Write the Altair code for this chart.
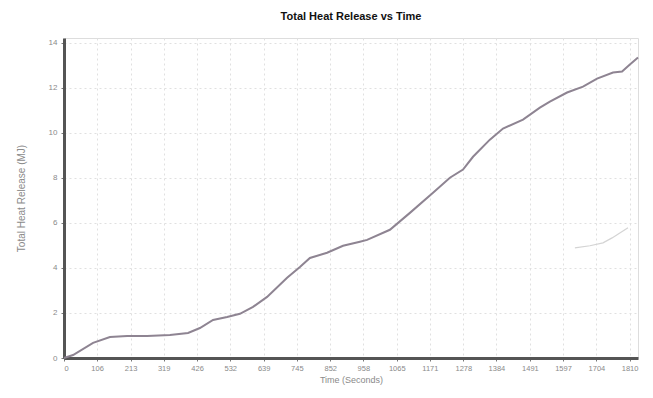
import altair as alt
import pandas as pd

# Cumulative heat release curve (time in s, energy in MJ)
time_s = [0, 29, 93, 147, 202, 266, 339, 397, 435, 477, 522, 563, 605, 650,
          714, 755, 787, 842, 893, 947, 970, 1043, 1107, 1181, 1235, 1277,
          1309, 1363, 1405, 1469, 1523, 1555, 1610, 1661, 1706, 1757, 1786,
          1811, 1837]
heat_mj = [0.0, 0.13, 0.67, 0.93, 0.98, 0.98, 1.02, 1.11, 1.33, 1.69, 1.82,
           1.96, 2.27, 2.71, 3.56, 4.04, 4.44, 4.67, 4.98, 5.16, 5.24, 5.69,
           6.44, 7.33, 8.0, 8.36, 8.93, 9.69, 10.18, 10.58, 11.11, 11.38,
           11.78, 12.04, 12.4, 12.67, 12.71, 13.02, 13.33]

# Faint secondary trace near the end of the test
trace_time = [1635, 1683, 1725, 1754, 1805]
trace_heat = [4.89, 4.98, 5.11, 5.33, 5.78]

x_ticks = [0, 106, 213, 319, 426, 532, 639, 745, 852, 958, 1065, 1171,
           1278, 1384, 1491, 1597, 1704, 1810]
y_ticks = [0, 2, 4, 6, 8, 10, 12, 14]

main = pd.DataFrame({"t": time_s, "q": heat_mj})
trace = pd.DataFrame({"t": trace_time, "q": trace_heat})

x_enc = alt.X(
    "t:Q",
    title="Time (Seconds)",
    scale=alt.Scale(domain=[0, 1837], nice=False, zero=False),
    axis=alt.Axis(values=x_ticks, format="d", labelFontSize=7.5,
                  labelOverlap=False, labelColor="#8a8a8a",
                  titleFontSize=9, titleColor="#8a8a8a",
                  titleFontWeight="normal", domainColor="#555555",
                  domainWidth=3, tickSize=3, tickColor="#777777",
                  gridColor="#e0e0e0", gridDash=[2, 3], labelPadding=3,
                  titlePadding=4),
)
y_enc = alt.Y(
    "q:Q",
    title="Total Heat Release (MJ)",
    scale=alt.Scale(domain=[0, 14.2], nice=False),
    axis=alt.Axis(values=y_ticks, format="d", labelFontSize=8,
                  labelOverlap=False, labelColor="#8a8a8a",
                  titleFontSize=10, titleColor="#8a8a8a",
                  titleFontWeight="normal", domainColor="#555555",
                  domainWidth=3, tickSize=3, tickColor="#777777",
                  gridColor="#e0e0e0", gridDash=[2, 3], labelPadding=4,
                  titlePadding=22),
)

curve = alt.Chart(main).mark_line(color="#8e8492", strokeWidth=2).encode(
    x=x_enc, y=y_enc
)
faint = alt.Chart(trace).mark_line(color="#d4d4d4", strokeWidth=1.2).encode(
    x=x_enc, y=y_enc
)

chart = (
    alt.layer(curve, faint)
    .properties(
        width=574,
        height=320,
        padding={"left": 64, "top": 38, "right": 15, "bottom": 40},
        autosize=alt.AutoSizeParams(type="none"),
        title=alt.TitleParams("Total Heat Release vs Time", fontSize=11,
                              fontWeight="bold", font="Liberation Sans",
                              color="#111111", offset=16),
    )
    .configure_view(stroke=None)
    .configure_axis(labelFont="Liberation Sans", titleFont="Liberation Sans",
                    labelOverlap=False, labelFlush=False)
    .configure(background="white")
)

chart.save("out.html", embed_options={"renderer": "svg", "actions": False})
